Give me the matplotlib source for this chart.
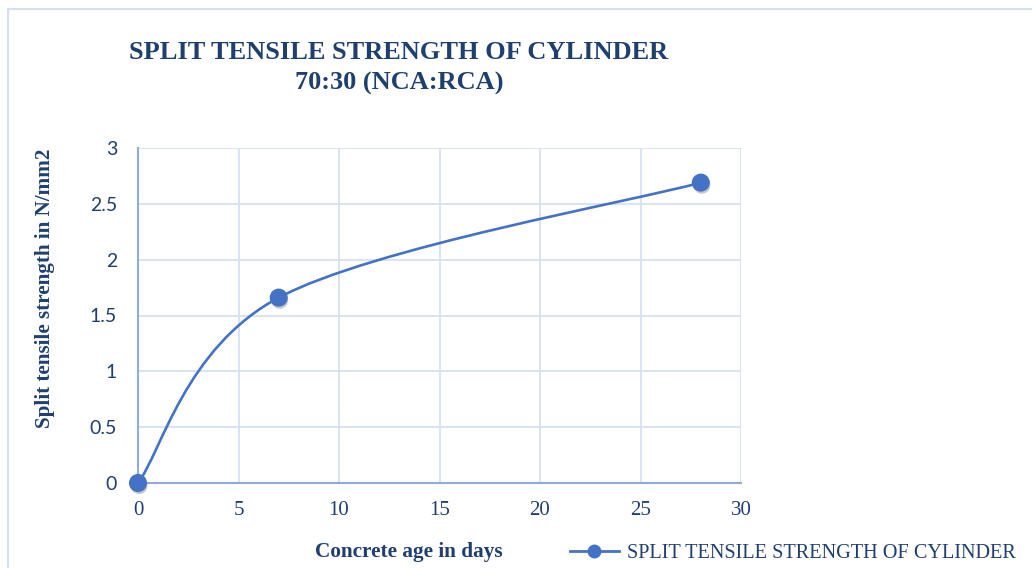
import numpy as np
import matplotlib
matplotlib.use('Agg')
import matplotlib.pyplot as plt
from matplotlib.path import Path
from matplotlib.patches import PathPatch, Rectangle
from matplotlib.lines import Line2D
import matplotlib.patheffects as pe

# Datos
dias = [0, 7, 28]
resistencia = [0, 1.66, 2.69]
xticks = [0, 5, 10, 15, 20, 25, 30]
yticks = [0, 0.5, 1, 1.5, 2, 2.5, 3]
ytick_labels = ['0', '0.5', '1', '1.5', '2', '2.5', '3']

azul_linea = '#4472C4'
azul_texto = '#1F3F6E'
gris_grid = '#D6E1F2'
azul_eje = '#8FAADC'

fig = plt.figure(figsize=(10.32, 5.68), dpi=100)
ax = fig.add_axes([138 / 1032, 1 - 483 / 568, (741 - 138) / 1032, (483 - 148) / 568])

# borde exterior del gráfico
fig.patches.append(Rectangle((7.5 / 1032, -0.1), 1.2, 1 - 8.5 / 568 + 0.1,
                             transform=fig.transFigure, fill=False,
                             edgecolor='#D5DFEF', linewidth=1.5))

# línea suavizada (Bezier tipo Excel) entre los puntos
pts = np.column_stack([dias, resistencia]).astype(float)
n = len(pts)
verts = [pts[0]]
codes = [Path.MOVETO]
for i in range(n - 1):
    p_prev = pts[max(i - 1, 0)]
    p0 = pts[i]
    p1 = pts[i + 1]
    p_next = pts[min(i + 2, n - 1)]
    c1 = p0 + (p1 - p_prev) / 6
    c2 = p1 - (p_next - p0) / 6
    verts += [c1, c2, p1]
    codes += [Path.CURVE4] * 3
ax.add_patch(PathPatch(Path(verts, codes), facecolor='none', edgecolor=azul_linea,
                       linewidth=1.9, zorder=3))

ax.plot(dias, resistencia, 'o', color=azul_linea, markersize=12, zorder=4, clip_on=False,
        path_effects=[pe.SimplePatchShadow(offset=(0.8, -2), alpha=0.25), pe.Normal()])

ax.set_xlim(0, 30)
ax.set_ylim(0, 3)
ax.set_xticks(xticks)
ax.set_yticks(yticks)
ax.set_yticklabels(ytick_labels)
ax.grid(True, color=gris_grid, linewidth=1.3)
ax.set_axisbelow(True)
ax.tick_params(axis='x', length=0, pad=13, labelsize=15, labelcolor=azul_texto)
ax.tick_params(axis='y', length=0, pad=15, labelsize=14, labelcolor=azul_texto)
for lbl in ax.get_xticklabels():
    lbl.set_fontfamily('Liberation Serif')
for lbl in ax.get_yticklabels():
    lbl.set_fontfamily('Lato')
for s in ['top', 'right']:
    ax.spines[s].set_visible(False)
for s in ['left', 'bottom']:
    ax.spines[s].set_color(azul_eje)
    ax.spines[s].set_linewidth(1.5)

# Títulos y etiquetas
fig.text(399 / 1032, 1 - 68 / 568, 'SPLIT TENSILE STRENGTH OF CYLINDER\n70:30 (NCA:RCA)',
         ha='center', va='center', fontfamily='Liberation Serif', fontweight='bold',
         fontsize=19, color=azul_texto, linespacing=1.45)
fig.text(45 / 1032, 1 - 288 / 568, 'Split tensile strength in N/mm2', rotation=90,
         ha='center', va='center', fontfamily='Liberation Serif', fontweight='bold',
         fontsize=15.2, color=azul_texto)
fig.text(409 / 1032, 1 - 552 / 568, 'Concrete age in days',
         ha='center', va='center', fontfamily='Liberation Serif', fontweight='bold',
         fontsize=15.3, color=azul_texto)

handle = Line2D([], [], color=azul_linea, linewidth=2, marker='o', markersize=9)
leg = ax.legend([handle], ['SPLIT TENSILE STRENGTH OF CYLINDER'], loc='center left',
                bbox_to_anchor=(570 / 1032, 1 - 553 / 568), bbox_transform=fig.transFigure,
                frameon=False, borderaxespad=0, borderpad=0, handlelength=2.4,
                handletextpad=0.4, prop={'family': 'Liberation Serif', 'size': 14.6})
for t in leg.get_texts():
    t.set_color(azul_texto)

fig.savefig('out.png', dpi=100)
